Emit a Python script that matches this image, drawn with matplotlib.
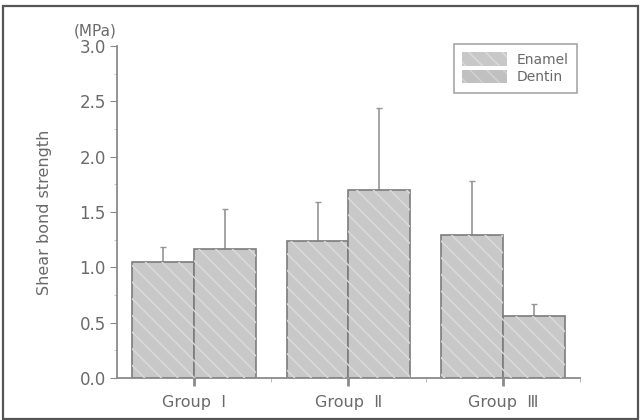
import matplotlib
matplotlib.use("Agg")
import matplotlib.pyplot as plt
import numpy as np
from matplotlib.patches import Rectangle, Patch

plt.rcParams['font.family'] = ['DejaVu Sans', 'Noto Sans CJK KR']

groups = ["Group  Ⅰ", "Group  Ⅱ", "Group  Ⅲ"]
enamel = [1.05, 1.24, 1.29]
enamel_sd = [0.13, 0.35, 0.49]
dentin = [1.165, 1.70, 0.56]
dentin_sd = [0.36, 0.74, 0.11]
yticks = [0.0, 0.5, 1.0, 1.5, 2.0, 2.5, 3.0]

fill = '#c8c8c8'
edge = '#7c7c7c'
hatchc = '#dcdcdc'
txt = '#6a6a6a'
axc = '#8a8a8a'

fig = plt.figure(figsize=(6.41, 4.20), dpi=100)
ax = fig.add_axes([117/641, 1-378/420, (580-117)/641, (378-46)/420])

x = np.arange(len(groups))
w = 0.4
for vals, sds, off in [(enamel, enamel_sd, -w/2), (dentin, dentin_sd, w/2)]:
    ax.bar(x + off, vals, w, color=fill, edgecolor=edge, linewidth=1.2, zorder=2)
    ax.bar(x + off, vals, w, fill=False, edgecolor=hatchc, linewidth=0, hatch='\\\\', zorder=3)
    ax.errorbar(x + off, vals, yerr=[np.zeros(len(vals)), sds], fmt='none',
                ecolor='#959595', elinewidth=1.2, capsize=2, capthick=1.0, zorder=1)

ax.set_xlim(-0.5, 2.5)
ax.set_ylim(0, 3.0)
ax.set_yticks(yticks)
ax.set_yticklabels([f"{v:.1f}" for v in yticks])
ax.set_yticks(np.arange(0, 3.01, 0.25), minor=True)
ax.set_xticks(x)
ax.set_xticklabels(groups)
ax.set_xticks([0.5, 1.5, 2.5], minor=True)

for s in ['top', 'right']:
    ax.spines[s].set_visible(False)
for s in ['left', 'bottom']:
    ax.spines[s].set_color(axc)
    ax.spines[s].set_linewidth(1.3)
ax.tick_params(axis='y', which='major', direction='out', length=5, color=axc,
               labelsize=12, labelcolor=txt, pad=3)
ax.tick_params(axis='y', which='minor', direction='out', length=2, color='#c0c0c0')
ax.tick_params(axis='x', which='major', direction='out', length=6, width=2, color=axc,
               labelsize=11.5, labelcolor=txt, pad=6)
ax.tick_params(axis='x', which='minor', direction='out', length=3, color='#b0b0b0')

fig.text(45/641, 1-212/420, "Shear bond strength", rotation=90, ha='center', va='center',
         fontsize=11.5, color=txt)
fig.text(95/641, 1-31/420, "(MPa)", ha='center', va='center', fontsize=11, color=txt)

handles = [Patch(facecolor=fill, edgecolor=hatchc, hatch='\\\\', linewidth=0),
           Patch(facecolor='#c0c0c0', edgecolor='#d4d4d4', hatch='\\\\', linewidth=0)]
leg = ax.legend(handles, ["Enamel", "Dentin"], loc='upper right',
                bbox_to_anchor=((577-117)/463, (378-44)/332), borderaxespad=0,
                fontsize=10, frameon=True, fancybox=False, edgecolor='#909090',
                handlelength=3.2, handleheight=1.1, labelspacing=0.22, borderpad=0.6,
                handletextpad=0.7, labelcolor=txt)
leg.get_frame().set_linewidth(1.2)

fig.patches.append(Rectangle((3/641, 1-419/420), (638-3)/641, (419-6)/420,
                             transform=fig.transFigure, fill=False,
                             edgecolor='#555555', linewidth=1.6))

fig.savefig("out.png", dpi=100)
